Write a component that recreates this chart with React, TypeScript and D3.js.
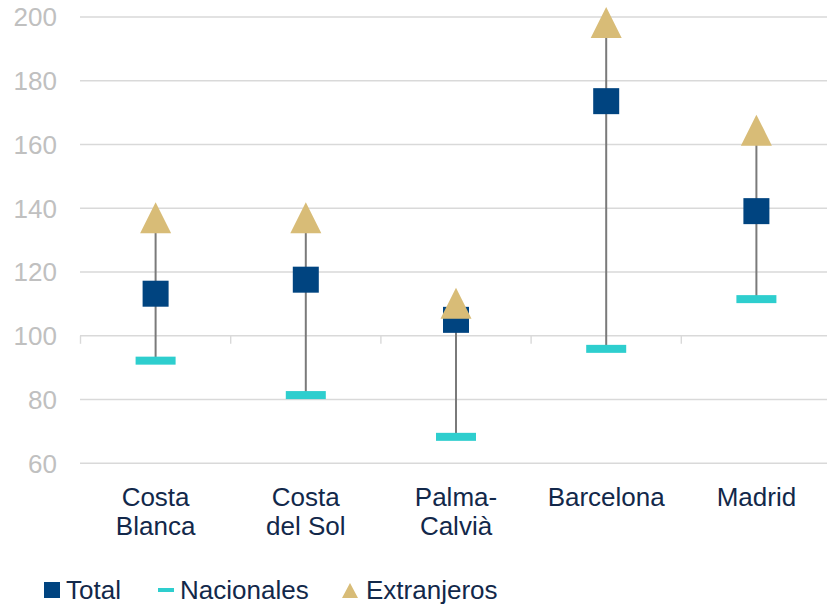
import React from "react";
import * as d3 from "d3";

const categories = [["Costa", "Blanca"], ["Costa", "del Sol"], ["Palma-", "Calvià"], ["Barcelona"], ["Madrid"]];
const categoryKeys = ["Costa Blanca", "Costa del Sol", "Palma-Calvià", "Barcelona", "Madrid"];
const total = [113.2, 117.6, 105.0, 173.6, 139.1];
const nacionales = [92.2, 81.4, 68.3, 95.9, 111.5];
const extranjeros = [137.0, 137.0, 110.2, 198.3, 164.5];
const yTicks = [60, 80, 100, 120, 140, 160, 180, 200];

const W = 827;
const H = 604;
const FONT = "'Liberation Sans', Arial, sans-serif";
const C_TOTAL = "#004480";
const C_NAC = "#2ecece";
const C_EXT = "#d8bc77";
const C_LINE = "#7a7a7a";
const C_GRID = "#d9d9d9";
const C_TEXT = "#12284a";

export default function App() {
  const x = d3.scaleBand<string>().domain(categoryKeys).range([80.5, 831.5]).padding(0);
  const y = d3.scaleLinear().domain([60, 200]).range([463.3, 17]);
  const bw = x.bandwidth();
  const cx = (k: string) => (x(k) as number) + bw / 2;

  // triangle centred on its bounding box
  const triPath = (w: number, h: number) => `M0,${-h / 2}L${w / 2},${h / 2}L${-w / 2},${h / 2}Z`;

  const boundaries = categoryKeys.map((k) => x(k) as number);

  return (
    <div style={{ position: "absolute", left: 0, top: 0 }}>
      <svg width={W} height={H} style={{ display: "block", background: "#fff" }}>
        {/* gridlines */}
        {yTicks.map((t) => (
          <line key={t} x1={80} x2={W} y1={y(t)} y2={y(t)} stroke={C_GRID} strokeWidth={1.4} />
        ))}
        {/* category tick marks on the 100 line */}
        {boundaries.map((b, i) => (
          <line key={i} x1={b} x2={b} y1={y(100)} y2={y(100) + 8} stroke={C_GRID} strokeWidth={1.4} />
        ))}
        {/* y labels */}
        {yTicks.map((t) => (
          <text key={t} x={57} y={y(t)} dy="0.36em" textAnchor="end" fontFamily={FONT} fontSize={26} fill="#c0c0c0">
            {t}
          </text>
        ))}
        {/* high-low lines */}
        {categoryKeys.map((k, i) => {
          const hi = Math.max(total[i], nacionales[i], extranjeros[i]);
          const lo = Math.min(total[i], nacionales[i], extranjeros[i]);
          return <line key={k} x1={cx(k)} x2={cx(k)} y1={y(hi)} y2={y(lo)} stroke={C_LINE} strokeWidth={2} />;
        })}
        {/* Total */}
        {categoryKeys.map((k, i) => (
          <rect key={k} x={cx(k) - 13} y={y(total[i]) - 13} width={26} height={26} fill={C_TOTAL} />
        ))}
        {/* Nacionales */}
        {categoryKeys.map((k, i) => (
          <rect key={k} x={cx(k) - 20} y={y(nacionales[i]) - 4} width={40} height={8} fill={C_NAC} />
        ))}
        {/* Extranjeros */}
        {categoryKeys.map((k, i) => (
          <path key={k} d={triPath(31, 31)} transform={`translate(${cx(k)},${y(extranjeros[i])})`} fill={C_EXT} />
        ))}
        {/* category labels */}
        {categoryKeys.map((k, i) => (
          <text key={k} x={cx(k)} y={506} textAnchor="middle" fontFamily={FONT} fontSize={26} fill={C_TEXT}>
            {categories[i].map((line, j) => (
              <tspan key={j} x={cx(k)} dy={j === 0 ? 0 : 29}>
                {line}
              </tspan>
            ))}
          </text>
        ))}
        {/* legend */}
        <g fontFamily={FONT} fontSize={26} fill={C_TEXT}>
          <rect x={44} y={582} width={16} height={16} fill={C_TOTAL} />
          <text x={66} y={599}>Total</text>
          <rect x={158} y={588} width={16} height={4} fill={C_NAC} />
          <text x={180} y={599}>Nacionales</text>
          <path d={triPath(16, 15)} transform="translate(350,590.5)" fill={C_EXT} />
          <text x={366} y={599}>Extranjeros</text>
        </g>
      </svg>
    </div>
  );
}
